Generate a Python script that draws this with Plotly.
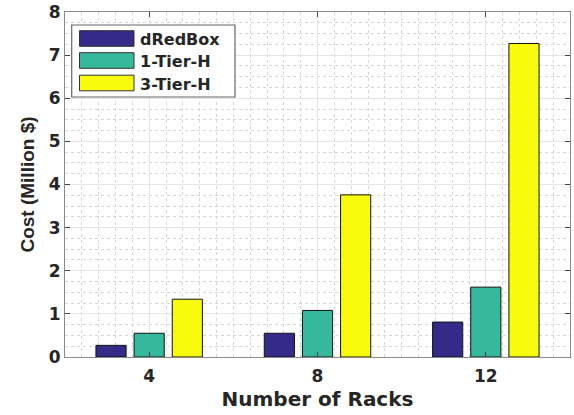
import plotly.graph_objects as go

categories = ["4", "8", "12"]
series_names = ["dRedBox", "1-Tier-H", "3-Tier-H"]
dredbox = [0.27, 0.55, 0.81]
tier1 = [0.55, 1.08, 1.62]
tier3 = [1.34, 3.76, 7.27]
y_ticks = [0, 1, 2, 3, 4, 5, 6, 7, 8]

colors = ["#352a87", "#36b89d", "#f9fb0e"]
xpos = [1, 2, 3]

fig = go.Figure()
for name, vals, col in zip(series_names, [dredbox, tier1, tier3], colors):
    fig.add_trace(go.Bar(x=xpos, y=vals, name=name,
                         marker=dict(color=col, line=dict(color="#111111", width=1)),
                         showlegend=False))

wide_font = "DejaVu Sans"
narrow_font = "Liberation Sans, Arial, sans-serif"
txt_col = "#262626"

W, H = 574, 415
ml, mt = 65, 12
mr = W - 570
mb = H - 357
pw, ph = W - ml - mr, H - mt - mb

def px2paper_x(px):
    return (px - ml) / pw

def px2paper_y(py):
    return 1 - (py - mt) / ph

# custom legend with large swatches, as in the original
lx0, lx1, ly0, ly1 = 71.7, 235, 25, 97
shapes = [dict(type="rect", xref="paper", yref="paper",
               x0=px2paper_x(lx0), x1=px2paper_x(lx1), y0=px2paper_y(ly1), y1=px2paper_y(ly0),
               line=dict(color="#666666", width=1.2), fillcolor="white", layer="above")]
annotations = []
row_y = [38.5, 60.5, 83]
for name, col, ry in zip(series_names, colors, row_y):
    shapes.append(dict(type="rect", xref="paper", yref="paper",
                       x0=px2paper_x(79.5), x1=px2paper_x(134), y0=px2paper_y(ry + 7.8), y1=px2paper_y(ry - 7.8),
                       line=dict(color="#333333", width=1), fillcolor=col, layer="above"))
    annotations.append(dict(xref="paper", yref="paper", x=px2paper_x(138), y=px2paper_y(ry + 1),
                            text=name, showarrow=False, xanchor="left", yanchor="middle",
                            font=dict(family=wide_font, size=16, color=txt_col, weight="bold")))

fig.update_layout(
    width=W, height=H,
    margin=dict(l=ml, r=mr, t=mt, b=mb),
    barmode="group", bargap=0.32, bargroupgap=0.21,
    plot_bgcolor="white", paper_bgcolor="white",
    shapes=shapes, annotations=annotations,
    font=dict(family=wide_font, color=txt_col),
)
common = dict(
    showline=True, linecolor="#8a8a8a", linewidth=1, mirror="ticks",
    ticks="inside", ticklen=5, tickcolor="#444444", tickwidth=1.2,
    showgrid=True, gridcolor="#e6e6e6", gridwidth=1,
    zeroline=False, automargin=False, ticklabeloverflow="allow",
)
fig.update_xaxes(
    range=[0.5, 3.5], tickvals=xpos, ticktext=categories,
    minor=dict(dtick=0.1, tick0=0, showgrid=True, gridcolor="#d6d6d6", griddash="dot", gridwidth=1),
    tickfont=dict(size=17, family=wide_font, color=txt_col, weight="bold"),
    ticklabelstandoff=4,
    title=dict(text="Number of Racks", font=dict(size=20, family=wide_font, color=txt_col, weight="bold"), standoff=6),
    **common,
)
fig.update_yaxes(
    range=[0, 8], tickvals=y_ticks,
    minor=dict(dtick=0.25, tick0=0, showgrid=True, gridcolor="#d6d6d6", griddash="dot", gridwidth=1),
    tickfont=dict(size=17, family=wide_font, color=txt_col, weight="bold"),
    title=dict(text="Cost (Million $)", font=dict(size=19, family=narrow_font, color=txt_col, weight="bold"), standoff=9),
    **common,
)

fig.write_html("out.html", config={"displayModeBar": False},
               post_script="document.body.style.margin='0px';document.body.style.padding='0px';")
